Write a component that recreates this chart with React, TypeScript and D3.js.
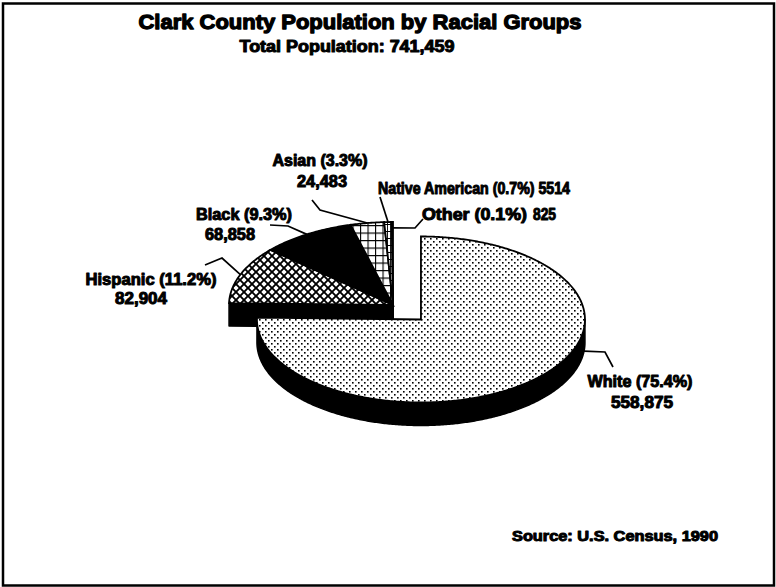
import React from 'react';
import * as d3 from 'd3';

// ---------- data ----------
const categories = ['White', 'Hispanic', 'Black', 'Asian', 'Native American', 'Other'];
const populations = [558875, 82904, 68858, 24483, 5514, 825];
const percentLabels = ['75.4%', '11.2%', '9.3%', '3.3%', '0.7%', '0.1%'];
const valueLabels = ['558,875', '82,904', '68,858', '24,483', '5514', '825'];
const exploded = [true, false, false, false, false, false];
const fills = ['url(#dots)', 'url(#xhatch)', '#000', 'url(#grid)', 'url(#narrow)', 'url(#narrow2)'];
const titleText = 'Clark County Population by Racial Groups';
const subtitleText = 'Total Population: 741,459';
const sourceText = 'Source: U.S. Census, 1990';

// ---------- layout ----------
const W = 776, H = 587;
const CX = 393, CY = 305, RX = 164, RY = 83, DEPTH = 23, EXPLODE = 40;
const FONT = "'Liberation Sans', Arial, Helvetica, sans-serif";

type LabelLayout = {
  lines: { x: number; y: number; w: number; anchor: string }[];
  anchorAngle?: number;
  anchorFrac: number;
  anchorZ: number;
  elbows: [number, number][];
};

const labelLayouts: LabelLayout[] = [
  { lines: [{ x: 640, y: 387, w: 105, anchor: 'middle' }, { x: 642, y: 408, w: 62, anchor: 'middle' }],
    anchorAngle: 96, anchorFrac: 1, anchorZ: DEPTH, elbows: [[605, 352], [613, 367]] },
  { lines: [{ x: 151, y: 285, w: 131, anchor: 'middle' }, { x: 141, y: 304, w: 52, anchor: 'middle' }],
    anchorFrac: 1, anchorZ: 0, elbows: [[222, 258], [205, 265]] },
  { lines: [{ x: 244, y: 220, w: 96, anchor: 'middle' }, { x: 230, y: 240, w: 50, anchor: 'middle' }],
    anchorFrac: 1, anchorZ: 0, elbows: [[288, 226], [270, 225]] },
  { lines: [{ x: 320, y: 166, w: 95, anchor: 'middle' }, { x: 322, y: 187, w: 50, anchor: 'middle' }],
    anchorFrac: 1, anchorZ: 0, elbows: [[320, 210], [312, 200]] },
  { lines: [{ x: 378, y: 194, w: 192, anchor: 'start' }],
    anchorFrac: 1, anchorZ: 0, elbows: [[380, 197]] },
  { lines: [{ x: 422, y: 220, w: 105, anchor: 'start' }, { x: 533, y: 220, w: 23, anchor: 'start' }],
    anchorFrac: 0.93, anchorZ: 0, elbows: [[415, 228], [423, 219]] },
];

function App() {
  const pie = d3.pie<number>().sort(null).startAngle(0).endAngle(2 * Math.PI);
  const arcs = pie(populations);

  const centers = arcs.map((a, i) => {
    if (!exploded[i]) return [CX, CY];
    const mid = (a.startAngle + a.endAngle) / 2;
    return [CX + EXPLODE * Math.sin(mid), CY - EXPLODE * Math.cos(mid) * (RY / RX)];
  });

  const pt = (c: number[], ang: number, frac = 1, z = 0): [number, number] => [
    c[0] + RX * frac * Math.sin(ang),
    c[1] - RY * frac * Math.cos(ang) + z,
  ];

  const arcPoints = (c: number[], a0: number, a1: number, z: number) => {
    const n = Math.max(2, Math.ceil(Math.abs(a1 - a0) / 0.01));
    return d3.range(n + 1).map((k) => pt(c, a0 + ((a1 - a0) * k) / n, 1, z));
  };

  const line = d3.line();

  const topPath = (i: number) => {
    const a = arcs[i];
    const c = centers[i];
    const pts: [number, number][] = [[c[0], c[1]], ...arcPoints(c, a.startAngle, a.endAngle, 0)];
    return line(pts) + 'Z';
  };

  const wallPath = (i: number) => {
    const a = arcs[i];
    const c = centers[i];
    const s = Math.max(a.startAngle, Math.PI / 2);
    const e = Math.min(a.endAngle, (3 * Math.PI) / 2);
    if (e <= s) return null;
    const topPts = arcPoints(c, s, e, 0);
    const botPts = arcPoints(c, e, s, DEPTH);
    return line([...topPts, ...botPts]) + 'Z';
  };

  const cutFaces = (i: number) => {
    const a = arcs[i];
    const c = centers[i];
    const faces: string[] = [];
    const mk = (ang: number) => {
      const p = pt(c, ang);
      return line([[c[0], c[1]], p, [p[0], p[1] + DEPTH], [c[0], c[1] + DEPTH]]) + 'Z';
    };
    if (Math.cos(a.startAngle - Math.PI / 2) < -1e-6) faces.push(mk(a.startAngle));
    if (Math.cos(a.endAngle + Math.PI / 2) < -1e-6) faces.push(mk(a.endAngle));
    return faces;
  };

  const groupIdx = arcs.map((_, i) => i).filter((i) => !exploded[i]);
  const expIdx = arcs.map((_, i) => i).filter((i) => exploded[i]);

  const drawSides = (idx: number[]) =>
    idx.flatMap((i) => {
      const els: React.ReactNode[] = [];
      cutFaces(i).forEach((d, k) =>
        els.push(<path key={`c${i}-${k}`} d={d} fill="#000" stroke="#000" strokeWidth={1.5} strokeLinejoin="round" />)
      );
      const w = wallPath(i);
      if (w) els.push(<path key={`w${i}`} d={w} fill="#000" stroke="#000" strokeWidth={1.5} strokeLinejoin="round" />);
      return els;
    });

  const drawTops = (idx: number[]) =>
    idx.map((i) => (
      <path key={`t${i}`} d={topPath(i)} fill={fills[i]} stroke="#000" strokeWidth={1.8} strokeLinejoin="miter" />
    ));

  const textStyle = (sw: number) => ({
    fontFamily: FONT,
    fontWeight: 'bold' as const,
    fill: '#000',
    stroke: '#000',
    strokeWidth: sw,
    strokeLinejoin: 'round' as const,
  });

  const labelTexts = (i: number) => {
    const L = labelLayouts[i];
    const cat = categories[i];
    const strs = L.lines.length === 2
      ? [`${cat} (${percentLabels[i]})`, valueLabels[i]]
      : [`${cat} (${percentLabels[i]}) ${valueLabels[i]}`];
    return L.lines.map((ln, k) => (
      <text key={`l${i}-${k}`} x={ln.x} y={ln.y} textAnchor={ln.anchor} fontSize={16}
        textLength={ln.w} lengthAdjust="spacingAndGlyphs" style={textStyle(1.0)}>
        {strs[k]}
      </text>
    ));
  };

  const leader = (i: number) => {
    const L = labelLayouts[i];
    const a = arcs[i];
    const ang = L.anchorAngle !== undefined ? (L.anchorAngle * Math.PI) / 180 : (a.startAngle + a.endAngle) / 2;
    const p = pt(centers[i], ang, L.anchorFrac, L.anchorZ);
    return <path key={`ld${i}`} d={line([p, ...L.elbows]) as string} fill="none" stroke="#000" strokeWidth={1.7} />;
  };

  return (
    <svg width={W} height={H} viewBox={`0 0 ${W} ${H}`}
      style={{ position: 'absolute', left: 0, top: 0, background: '#fff' }}>
      <defs>
        <pattern id="dots" width={6} height={6} patternUnits="userSpaceOnUse">
          <rect width={6} height={6} fill="#fff" />
          <rect x={1} y={1} width={1.6} height={1.6} fill="#000" />
          <rect x={4} y={4} width={1.6} height={1.6} fill="#000" />
        </pattern>
        <pattern id="xhatch" width={8} height={8} patternUnits="userSpaceOnUse">
          <rect width={8} height={8} fill="#fff" />
          <path d="M-1,-1 L9,9 M9,-1 L-1,9" stroke="#000" strokeWidth={1.9} />
        </pattern>
        <pattern id="grid" width={7.5} height={7.5} patternUnits="userSpaceOnUse">
          <rect width={7.5} height={7.5} fill="#fff" />
          <path d="M0,0 H7.5 M0,0 V7.5" stroke="#000" strokeWidth={2.2} />
        </pattern>
        <pattern id="narrow" width={3} height={7} patternUnits="userSpaceOnUse">
          <rect width={3} height={7} fill="#fff" />
          <path d="M0,0 H3 M0,0 V7" stroke="#000" strokeWidth={1.8} />
        </pattern>
        <pattern id="narrow2" width={3} height={5} patternUnits="userSpaceOnUse">
          <rect width={3} height={5} fill="#fff" />
          <path d="M0,0 V5" stroke="#000" strokeWidth={1.5} />
        </pattern>
      </defs>

      <rect x={3} y={3.5} width={771} height={582} fill="#fff" stroke="#000" strokeWidth={2.5} />

      <text x={360} y={29} textAnchor="middle" fontSize={21} textLength={443}
        lengthAdjust="spacingAndGlyphs" style={textStyle(1.3)}>{titleText}</text>
      <text x={347} y={52} textAnchor="middle" fontSize={16} textLength={215}
        lengthAdjust="spacingAndGlyphs" style={textStyle(1.0)}>{subtitleText}</text>

      <g>
        {drawSides(groupIdx)}
        {drawTops(groupIdx)}
        {drawSides(expIdx)}
        {drawTops(expIdx)}
      </g>

      <g>{arcs.map((_, i) => leader(i))}</g>
      <g>{arcs.map((_, i) => labelTexts(i))}</g>

      <text x={615} y={541} textAnchor="middle" fontSize={14} textLength={206}
        lengthAdjust="spacingAndGlyphs" style={textStyle(1.0)}>{sourceText}</text>
    </svg>
  );
}

export default App;
